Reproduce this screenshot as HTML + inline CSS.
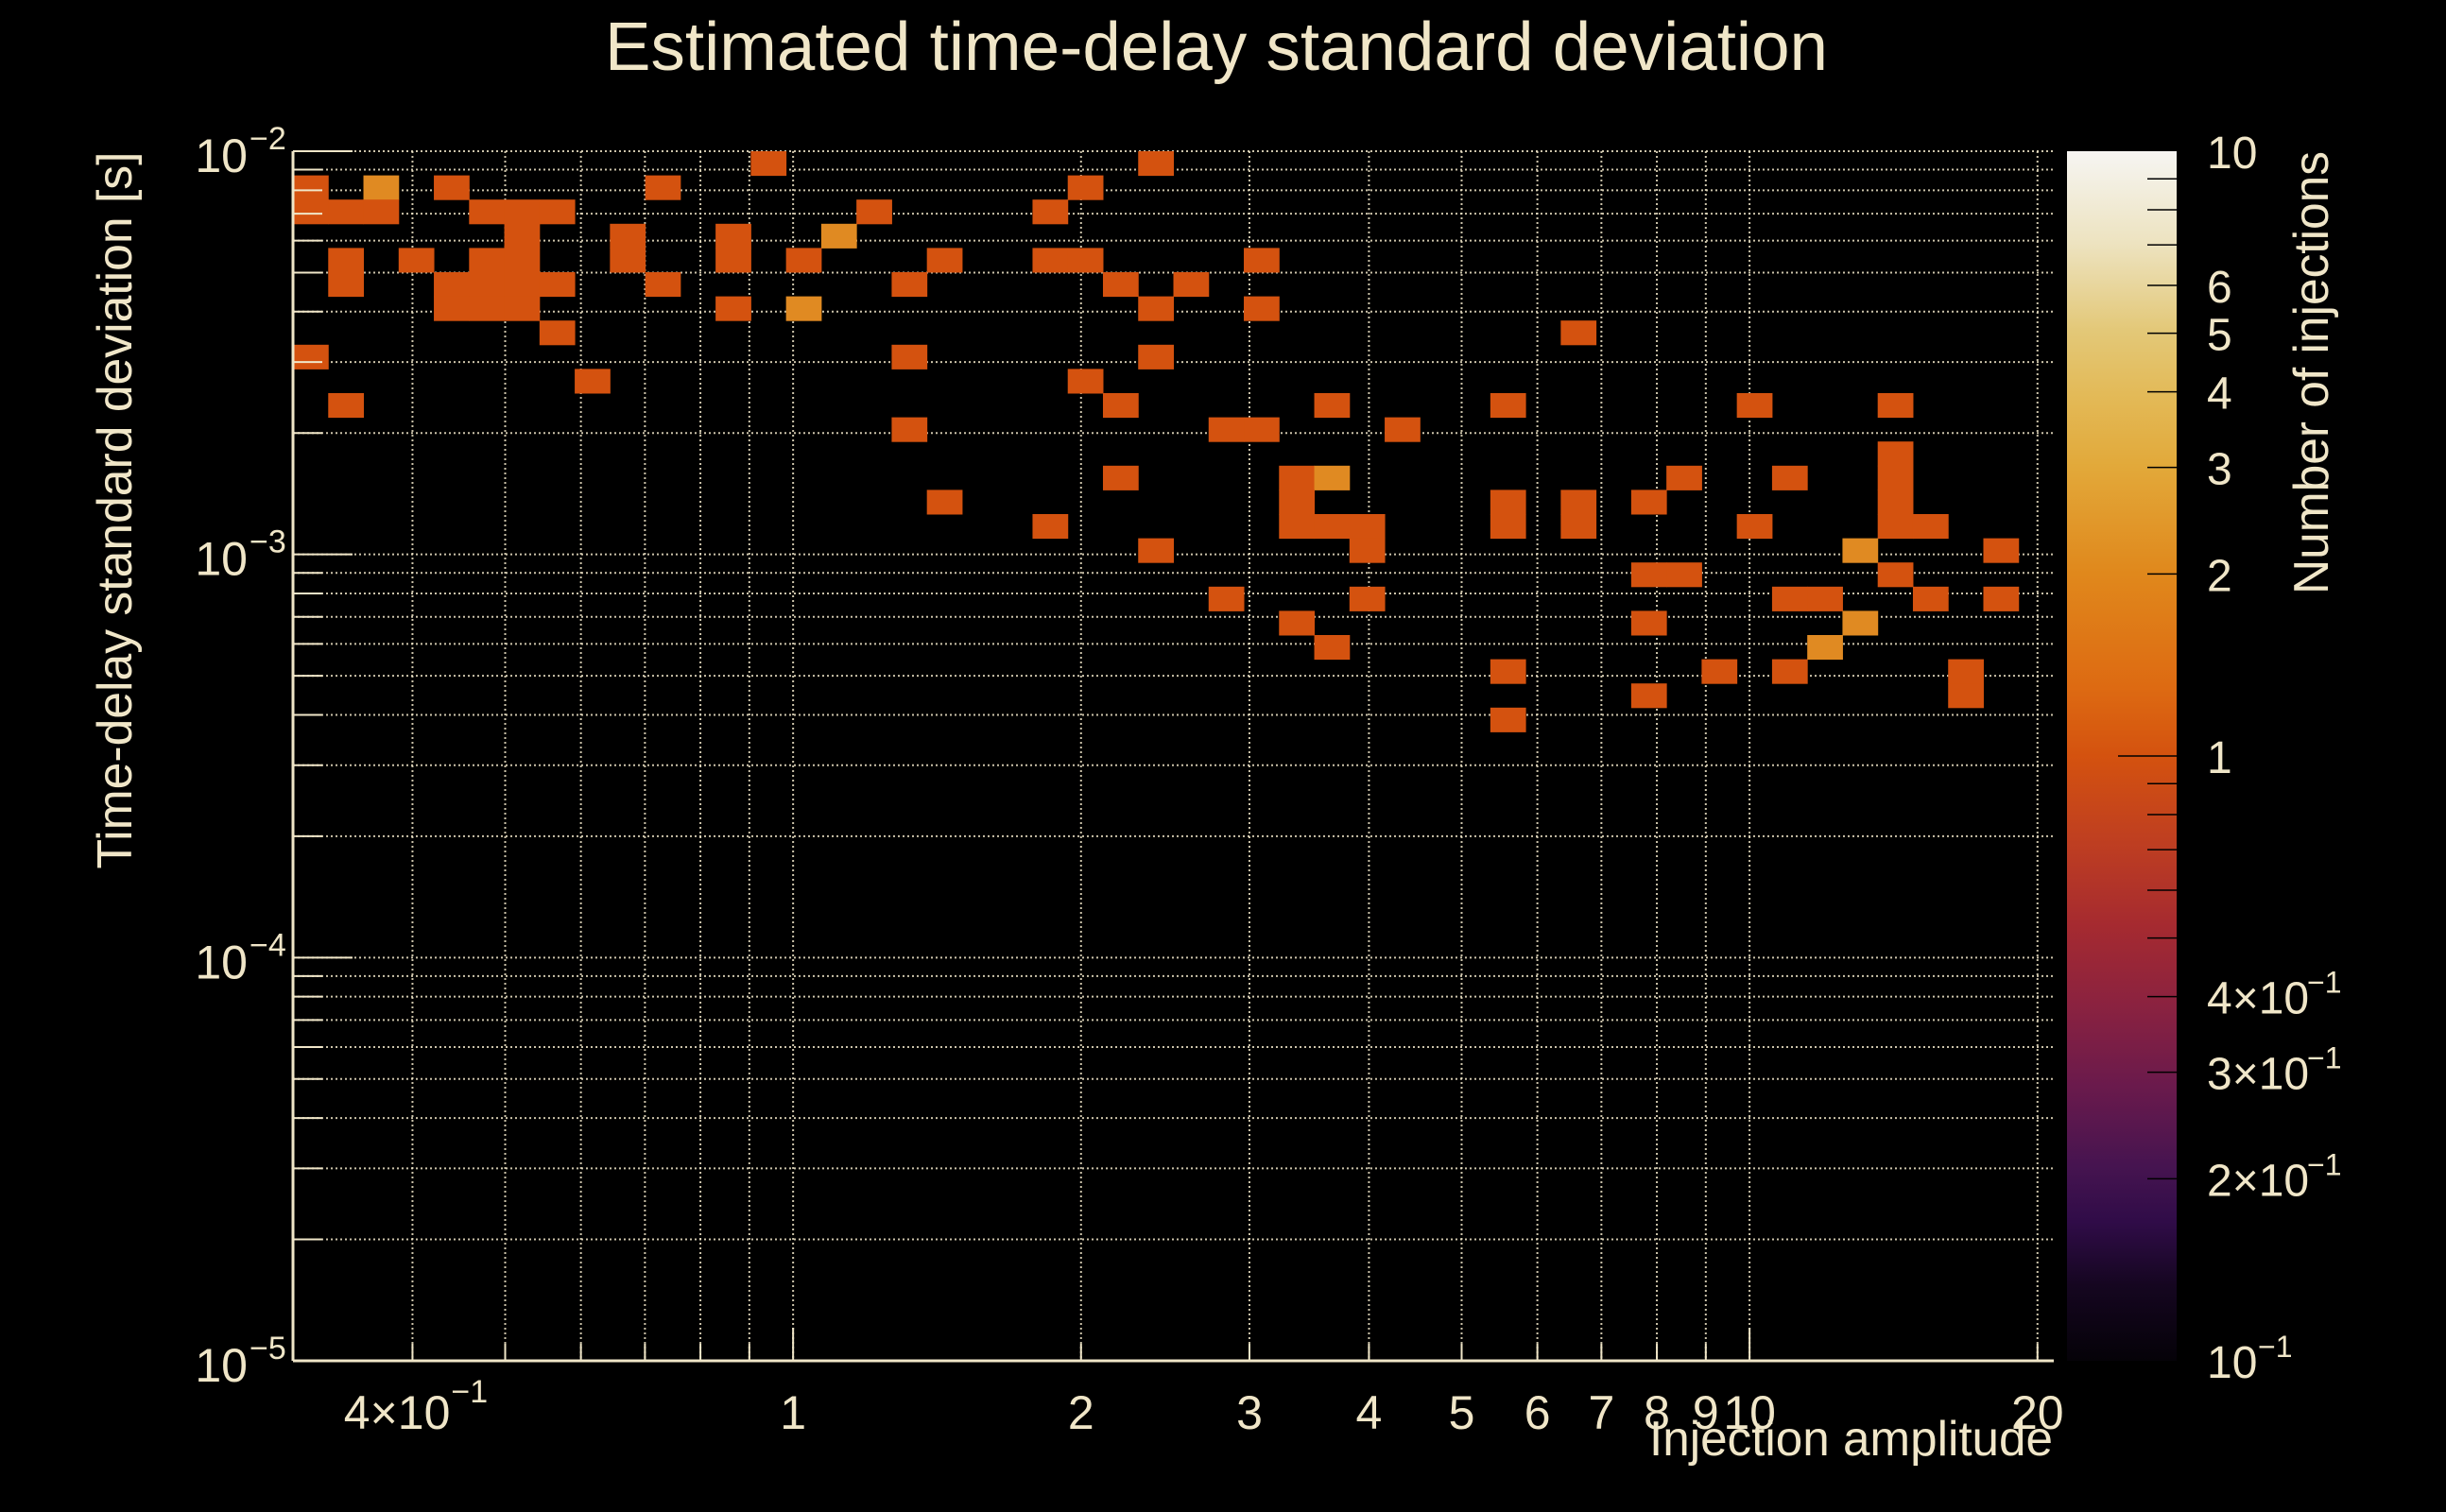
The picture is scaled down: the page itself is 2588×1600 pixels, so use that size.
<!DOCTYPE html>
<html><head><meta charset="utf-8"><style>
html,body{margin:0;padding:0;background:#000;}
svg{display:block;font-family:"Liberation Sans",sans-serif;}
</style></head><body>
<svg id="chart" width="2588" height="1600" viewBox="0 0 2588 1600" xmlns="http://www.w3.org/2000/svg">
<defs>
<linearGradient id="cmap" x1="0" y1="0" x2="0" y2="1">
<stop offset="0" stop-color="#f6f5f2"/>
<stop offset="0.076" stop-color="#ede3c0"/>
<stop offset="0.148" stop-color="#e3c878"/>
<stop offset="0.201" stop-color="#e3ba58"/>
<stop offset="0.26" stop-color="#e2a93a"/>
<stop offset="0.349" stop-color="#e0881c"/>
<stop offset="0.444" stop-color="#dd6a12"/>
<stop offset="0.5" stop-color="#d4520f"/>
<stop offset="0.576" stop-color="#bd3d22"/>
<stop offset="0.641" stop-color="#a52a30"/>
<stop offset="0.707" stop-color="#8a2240"/>
<stop offset="0.773" stop-color="#6a1a4c"/>
<stop offset="0.839" stop-color="#461450"/>
<stop offset="0.885" stop-color="#300c48"/>
<stop offset="0.938" stop-color="#150620"/>
<stop offset="1" stop-color="#050208"/>
</linearGradient>
</defs>
<text x="1287" y="74" fill="#f0e6c8" font-size="72" text-anchor="middle" textLength="1294" lengthAdjust="spacingAndGlyphs">Estimated time-delay standard deviation</text>
<text transform="translate(139,540) rotate(-90)" fill="#f0e6c8" font-size="52" text-anchor="middle" textLength="759" lengthAdjust="spacingAndGlyphs">Time-delay standard deviation [s]</text>
<text x="2172" y="1540" fill="#f0e6c8" font-size="52" text-anchor="end" textLength="427" lengthAdjust="spacingAndGlyphs">Injection amplitude</text>
<text transform="translate(2463,160) rotate(-90)" fill="#f0e6c8" font-size="52" text-anchor="end" textLength="469" lengthAdjust="spacingAndGlyphs">Number of injections</text>
<g id="grid"></g>
<g id="cells"></g>
<g id="axes"></g>
<g id="cbar"></g>
</svg>
<script>
// Data
const xDomain = [0.3, 20.8];
const yDomain = [1e-5, 1e-2];
const nBinsX = 50;
const nBinsY = 50;
// bin indices (col from left, row from top) and counts
const cellCol = [13,24, 0,2,4,10,22, 0,1,2,5,6,7,16,21, 6,9,12,15,
  1,3,5,6,9,12,14,18,21,22,27, 1,4,5,6,7,10,17,23,25, 4,5,6,12,14,24,27,
  7,36, 0,17,24, 8,22, 1,23,29,34,41,45, 17,26,27,31, 45,
  23,28,29,39,42,45, 18,28,34,36,38,45, 21,28,29,30,34,36,41,45,46,
  24,30,44,48, 38,39,45, 26,30,42,43,46,48, 28,38,44, 29,43, 34,40,42,47, 38,47, 34];
const cellRow = [0,0, 1,1,1,1,1, 2,2,2,2,2,2,2,2, 3,3,3,3,
  4,4,4,4,4,4,4,4,4,4,4, 5,5,5,5,5,5,5,5,5, 6,6,6,6,6,6,6,
  7,7, 8,8,8, 9,9, 10,10,10,10,10,10, 11,11,11,11, 12,
  13,13,13,13,13,13, 14,14,14,14,14,14, 15,15,15,15,15,15,15,15,15,
  16,16,16,16, 17,17,17, 18,18,18,18,18,18, 19,19,19, 20,20, 21,21,21,21, 22,22, 23];
const cellCount = [1,1, 1,2,1,1,1, 1,1,1,1,1,1,1,1, 1,1,1,2,
  1,1,1,1,1,1,1,1,1,1,1, 1,1,1,1,1,1,1,1,1, 1,1,1,1,2,1,1,
  1,1, 1,1,1, 1,1, 1,1,1,1,1,1, 1,1,1,1, 1,
  1,1,2,1,1,1, 1,1,1,1,1,1, 1,1,1,1,1,1,1,1,1,
  1,1,2,1, 1,1,1, 1,1,1,1,1,1, 1,1,2, 1,2, 1,1,1,1, 1,1, 1];
const xTickVals = [0.4,1,2,3,4,5,6,7,8,9,10,20];
const xTickLabels = ["4×10","1","2","3","4","5","6","7","8","9","10","20"];
const xTickSup = ["−1","","","","","","","","","","",""];
const cbTickVals = [10,6,5,4,3,2,1,0.4,0.3,0.2,0.1];
const cbTickLabels = ["10","6","5","4","3","2","1","4×10","3×10","2×10","10"];
const cbTickSup = ["","","","","","","","−1","−1","−1","−1"];
const cbDomain = [0.1, 10];

const NS = "http://www.w3.org/2000/svg";
const PL = 310, PR = 2173, PT = 160, PB = 1440;
const CBL = 2187, CBR = 2303;
const L = Math.log10;
function xScale(v){ return PL + (L(v)-L(xDomain[0]))/(L(xDomain[1])-L(xDomain[0]))*(PR-PL); }
function yScale(v){ return PB - (L(v)-L(yDomain[0]))/(L(yDomain[1])-L(yDomain[0]))*(PB-PT); }
function cbScale(v){ return PB - (L(v)-L(cbDomain[0]))/(L(cbDomain[1])-L(cbDomain[0]))*(PB-PT); }
function xEdge(i){ return Math.pow(10, L(xDomain[0]) + i*(L(xDomain[1])-L(xDomain[0]))/nBinsX); }
function yEdge(r){ return Math.pow(10, L(yDomain[1]) - r*(L(yDomain[1])-L(yDomain[0]))/nBinsY); }
function color(c){ return c>=2 ? "#e08a22" : "#d4520f"; }
function mk(tag, attrs, parent){ const e=document.createElementNS(NS,tag); for(const k in attrs) e.setAttribute(k,attrs[k]); parent.appendChild(e); return e; }
const TXT = "#f0e6c8";

// grid
const grid = document.getElementById("grid");
for(let d=-5; d<=-3; d++){
  for(let m=1; m<=9; m++){
    const v = m*Math.pow(10,d); if(v>yDomain[1]*1.0001) continue;
    const y=yScale(v);
    const ln = mk("line",{x1:PL,x2:PR,y1:y,y2:y,stroke:TXT,"stroke-width":2,"stroke-dasharray":"2 3",opacity:0.85},grid);
    
    
  }
}
{ const y=yScale(1e-2); const ln=mk("line",{x1:PL,x2:PR,y1:y,y2:y,stroke:TXT,"stroke-width":2,"stroke-dasharray":"2 3",opacity:0.85},grid);
  
   }
for(let d=-1; d<=1; d++){
  for(let m=1; m<=9; m++){
    const v=m*Math.pow(10,d); if(v<xDomain[0]||v>xDomain[1]) continue;
    const x=xScale(v);
    const ln=mk("line",{x1:x,x2:x,y1:PT,y2:PB,stroke:TXT,"stroke-width":2,"stroke-dasharray":"2 3",opacity:0.85},grid);
    
    
  }
}

// cells
const cg = document.getElementById("cells");
for(let i=0;i<cellCol.length;i++){
  const x0=xScale(xEdge(cellCol[i])), x1=xScale(xEdge(cellCol[i]+1));
  const y0=yScale(yEdge(cellRow[i])), y1=yScale(yEdge(cellRow[i]+1));
  const r=mk("rect",{x:x0,y:y0,width:x1-x0+0.5,height:y1-y0+0.5,fill:color(cellCount[i])},cg);
  
  
}

// axes
const ax = document.getElementById("axes");
const yAxisLine = mk("line",{x1:PL,x2:PL,y1:PT,y2:PB,stroke:TXT,"stroke-width":3},ax);


const xAxisLine = mk("line",{x1:PL,x2:PR,y1:PB,y2:PB,stroke:TXT,"stroke-width":3},ax);


for(let d=-5; d<=-2; d++){
  for(let m=1; m<=9; m++){
    const v=m*Math.pow(10,d); if(v>yDomain[1]*1.0001) continue;
    const y=yScale(v);
    const t=mk("line",{x1:PL,x2:PL+(m===1?63:31),y1:y,y2:y,stroke:TXT,"stroke-width":2},ax);
    
    
  }
  const y=yScale(Math.pow(10,d));
  const tx=mk("text",{x:262,y:y+22,fill:TXT,"font-size":50,"text-anchor":"end"},ax);
  
  
  tx.textContent="10";
  const sp=mk("text",{x:264,y:y-2,fill:TXT,"font-size":34},ax);
  
  
  sp.textContent="−"+(-d);
}
for(let d=-1; d<=1; d++){
  for(let m=1; m<=9; m++){
    const v=m*Math.pow(10,d); if(v<xDomain[0]||v>xDomain[1]) continue;
    const x=xScale(v);
    const t=mk("line",{x1:x,x2:x,y1:PB,y2:PB-(m===1?35:18),stroke:TXT,"stroke-width":2},ax);
    
    
  }
}
for(let i=0;i<xTickVals.length;i++){
  const x=xScale(xTickVals[i]);
  const g=mk("text",{x:x,y:1512,fill:TXT,"font-size":50,"text-anchor":"middle"},ax);
  
  
  g.textContent=xTickLabels[i];
  if(xTickSup[i]){
    g.setAttribute("text-anchor","end");
    g.setAttribute("x", x+40);
    const s=mk("text",{x:x+41,y:1484,fill:TXT,"font-size":34},ax);
    
    
    s.textContent=xTickSup[i];
  }
}

// colorbar
const cb = document.getElementById("cbar");
const bar = mk("rect",{x:CBL,y:PT,width:CBR-CBL,height:PB-PT,fill:"url(#cmap)"},cb);


for(let d=-1; d<=0; d++){
  for(let m=1; m<=9; m++){
    const v=m*Math.pow(10,d);
    if(v<=cbDomain[0]*1.0001) continue;
    const y=cbScale(v);
    const t=mk("line",{x1:(m===1?2241:2272),x2:CBR,y1:y,y2:y,stroke:"#000","stroke-width":1.5},cb);
    
    
  }
}
for(let i=0;i<cbTickVals.length;i++){
  const y=cbScale(cbTickVals[i]);
  const t=mk("text",{x:2335,y:y+18,fill:TXT,"font-size":48},cb);
  
  
  t.textContent=cbTickLabels[i];
  if(cbTickSup[i]){
    const w = cbTickLabels[i].length===2 ? 54 : 106;
    const s=mk("text",{x:2335+w,y:y-4,fill:TXT,"font-size":32},cb);
    
    
    s.textContent=cbTickSup[i];
  }
}
</script>
</body></html>
